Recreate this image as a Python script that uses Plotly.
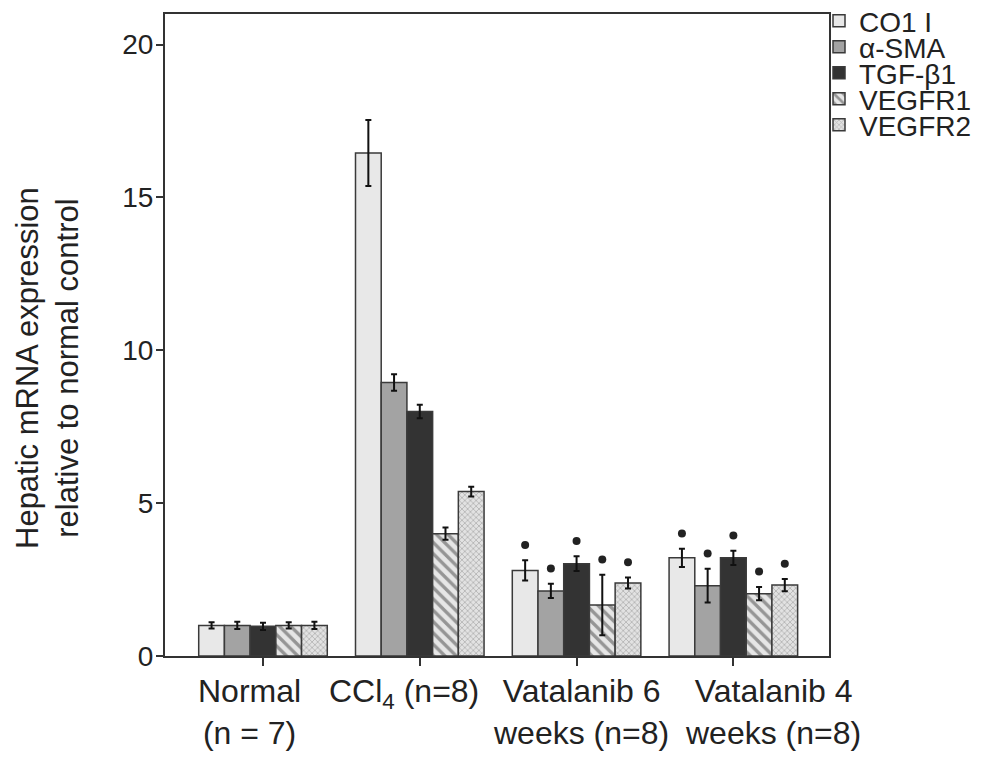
import plotly.graph_objects as go

categories = ["Normal<br>(n = 7)", "CCl<sub>4</sub> (n=8)", "Vatalanib 6<br>weeks (n=8)", "Vatalanib 4<br>weeks (n=8)"]
series_names = ["CO1 I", "α-SMA", "TGF-β1", "VEGFR1", "VEGFR2"]

co1_vals = [1.0, 16.45, 2.80, 3.21]
co1_err = [0.10, 1.08, 0.33, 0.30]
sma_vals = [1.0, 8.95, 2.13, 2.30]
sma_err = [0.12, 0.27, 0.23, 0.55]
tgf_vals = [0.97, 8.0, 3.02, 3.21]
tgf_err = [0.12, 0.22, 0.24, 0.23]
r1_vals = [1.0, 4.0, 1.67, 2.04]
r1_err = [0.10, 0.20, 0.99, 0.22]
r2_vals = [1.0, 5.38, 2.39, 2.32]
r2_err = [0.12, 0.16, 0.18, 0.20]
significant = [False, False, True, True]

values = [co1_vals, sma_vals, tgf_vals, r1_vals, r2_vals]
errors = [co1_err, sma_err, tgf_err, r1_err, r2_err]

styles = [
    dict(color="#e8e8e8"),
    dict(color="#a3a3a3"),
    dict(color="#333333"),
    dict(color="#e6e6e6", pattern=dict(shape="\\", fgcolor="#444444", bgcolor="#e6e6e6", size=8, solidity=0.42)),
    dict(color="#d6d6d6", pattern=dict(shape="x", fgcolor="#8a8a8a", bgcolor="#e2e2e2", size=4, solidity=0.4)),
]

FONT = "Liberation Sans, Arial, sans-serif"
OFF = 8  # default page body margin
W, H = 1002 - 2 * OFF, 764 - 2 * OFF
ML, MT = 165 - OFF, 14 - OFF
PW, PH = 664, 642
MR, MB = W - ML - PW, H - MT - PH

fig = go.Figure()
for i, name in enumerate(series_names):
    fig.add_trace(go.Bar(
        x=categories, y=values[i], name=name, offsetgroup=f"g{i}",
        legend="legend" if i == 0 else f"legend{i + 1}",
        marker=dict(**styles[i], line=dict(color="#3a3a3a", width=1.5)),
        error_y=dict(type="data", array=errors[i], visible=True, color="#111111", thickness=2, width=3),
    ))
for i, name in enumerate(series_names):
    ys = [v + e + 0.5 if s else None for v, e, s in zip(values[i], errors[i], significant)]
    fig.add_trace(go.Scatter(
        x=categories, y=ys, mode="markers", offsetgroup=f"g{i}", showlegend=False,
        marker=dict(symbol="circle", size=8, color="#222222"), hoverinfo="skip",
    ))

# one single-entry legend per series so the rows sit as tightly as in the original
legend_row_px = [21, 47, 73, 99, 125]
legend_left_px = 819
legends = {}
for i, row in enumerate(legend_row_px):
    key = "legend" if i == 0 else f"legend{i + 1}"
    legends[key] = dict(
        xref="container", yref="container",
        x=(legend_left_px - OFF) / W, y=1 - (row - OFF) / H, xanchor="left", yanchor="middle",
        font=dict(size=28, family=FONT, color="#222222"), bgcolor="rgba(0,0,0,0)",
        borderwidth=0, tracegroupgap=0,
    )

fig.update_layout(
    width=W, height=H,
    margin=dict(l=ML, r=MR, t=MT, b=MB, autoexpand=False),
    barmode="group", bargap=0.18, bargroupgap=0,
    scattermode="group", scattergap=0.18,
    plot_bgcolor="white", paper_bgcolor="white",
    font=dict(family=FONT, size=28, color="#222222"),
    showlegend=True,
    **legends,
)
fig.add_annotation(
    text="Hepatic mRNA expression<br>relative to normal control",
    xref="paper", yref="paper", x=(48 - OFF - ML) / PW, y=(H - MB - (368 - OFF)) / PH,
    xanchor="center", yanchor="middle", textangle=-90, showarrow=False,
    font=dict(size=31, family=FONT, color="#222222"),
)
# category labels, nudged as in the original artwork
label_shift_px = [-13, -16, 4, 40]
for cat, dx in zip(categories, label_shift_px):
    fig.add_annotation(
        text=cat, x=cat, xref="x", yref="paper", y=-(671 - 656) / PH, xshift=dx,
        xanchor="center", yanchor="top", showarrow=False, align="center",
        font=dict(size=32, family=FONT, color="#222222"),
    )
fig.update_xaxes(range=[-0.625, 3.61], showline=True, linecolor="#333333", linewidth=2, mirror=True,
                 ticks="outside", ticklen=8, tickwidth=1.5, tickcolor="#333333", automargin=False,
                 showticklabels=False, showgrid=False)
fig.update_yaxes(range=[0, 21.0], showline=True, linecolor="#333333", linewidth=2, mirror=True,
                 ticks="outside", ticklen=7, tickwidth=1.5, tickcolor="#333333", automargin=False,
                 ticklabelstandoff=-3,
                 tickvals=[0, 5, 10, 15, 20], tickfont=dict(size=28), showgrid=False, zeroline=False)

fig.write_html("out.html")
